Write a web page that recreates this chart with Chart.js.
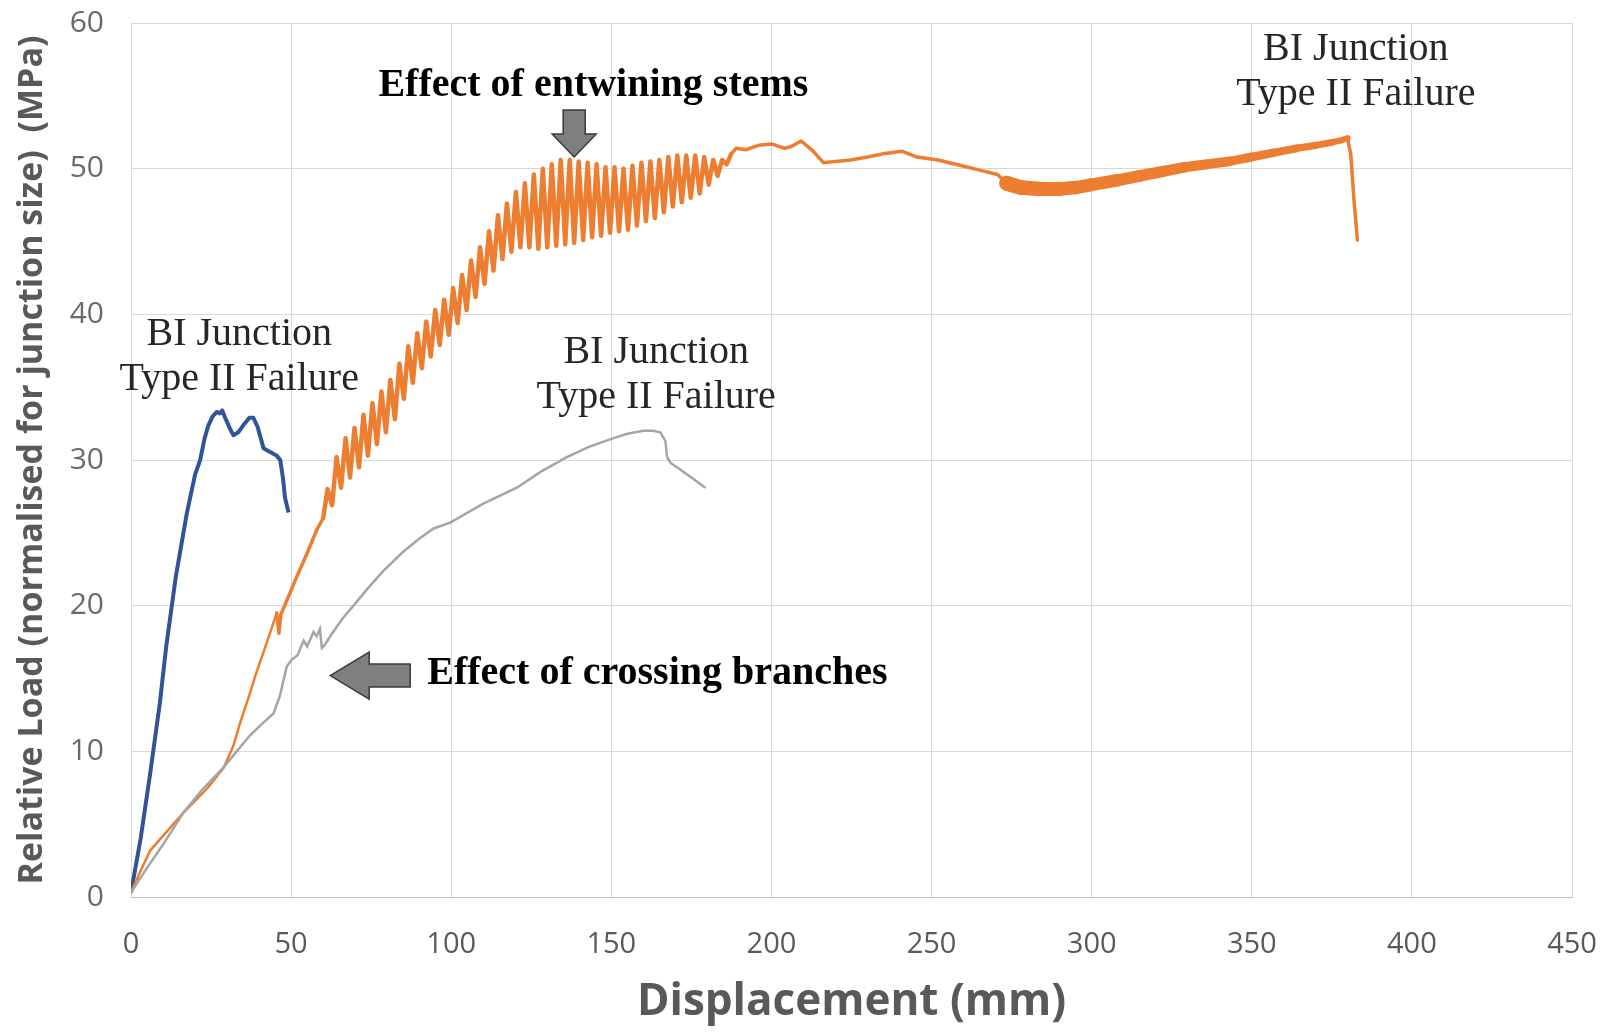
<!DOCTYPE html>
<html>
<head>
<meta charset="utf-8">
<script src="https://cdn.jsdelivr.net/npm/chart.js@4.4.1/dist/chart.umd.min.js"></script>
<style>
  html, body { margin: 0; padding: 0; background: #fff; }
  #wrap { width: 1617px; height: 1032px; position: relative; }
</style>
</head>
<body>
<div id="wrap"><canvas id="chart"></canvas></div>
<script>
// tick values
const xTickValues = [0, 50, 100, 150, 200, 250, 300, 350, 400, 450];
const yTickValues = [0, 10, 20, 30, 40, 50, 60];

// blue specimen
const blueX = [0, 3, 6, 9, 11, 14, 17.4, 20, 21.6, 23, 24.2, 25.5, 26.8, 27.8, 28.5, 29.4, 31, 32, 33.5, 35.1, 37, 38.2, 39.5, 41.4, 43, 43.9, 45.5, 46.6, 47.5, 48.1, 49.2];
const blueY = [0.3, 4, 8.5, 13.3, 17.2, 22, 26.3, 29, 30, 31.5, 32.4, 33, 33.3, 33.2, 33.4, 32.9, 32.1, 31.7, 31.9, 32.4, 32.9, 32.9, 32.3, 30.8, 30.6, 30.5, 30.3, 30, 28.7, 27.4, 26.4];

// grey specimen
const grayX = [0, 5, 10, 16.4, 22, 28.9, 33, 37.2, 41, 44.5, 46.5, 48.6, 50.2, 52, 53.9, 55, 57, 58, 59, 59.6, 60.5, 62.2, 66, 69.5, 74, 78.9, 85, 90, 94.5, 99.7, 110, 120.5, 128, 136.1, 143, 150.7, 155, 160.1, 163, 165.3, 166.9, 167.4, 168.5, 170.5, 175, 179.4];
const grayY = [0.3, 2.0, 3.6, 5.8, 7.3, 8.9, 10.0, 11.1, 11.9, 12.6, 13.8, 15.8, 16.3, 16.6, 17.6, 17.2, 18.2, 17.9, 18.4, 17.1, 17.3, 17.9, 19.1, 20.0, 21.2, 22.4, 23.7, 24.6, 25.3, 25.7, 27.0, 28.1, 29.2, 30.2, 30.9, 31.5, 31.8, 32.0, 32.0, 31.9, 31.3, 30.2, 29.8, 29.5, 28.8, 28.1];

// orange specimen (entwining stems oscillation read tooth by tooth)
const orangeX = [0, 3, 6, 10, 16, 20, 24, 29, 32, 34, 37, 39, 42, 44, 45.5, 46.2, 46.8, 48, 51, 55, 58,
  60.0, 61.4, 62.8, 64.2, 65.6, 67.0, 68.4, 69.8, 71.2, 72.6, 74.0, 75.4, 76.8, 78.2, 79.6, 81.0, 82.4, 83.8, 85.2, 86.6,
  88.0, 89.4, 90.8, 92.2, 93.6, 95.0, 96.4, 97.8, 99.2, 100.6, 102.0, 103.4, 104.8, 106.2, 107.6, 109.0, 110.4, 111.8, 113.2, 114.6,
  116.0, 117.4, 118.8, 120.2, 121.6, 123.0, 124.4, 125.8, 127.2, 128.6, 130.0, 131.4, 132.8, 134.2, 135.6, 137.0, 138.4, 139.8, 141.2, 142.6,
  144.0, 145.4, 146.8, 148.2, 149.6, 151.0, 152.4, 153.8, 155.2, 156.6, 158.0, 159.4, 160.8, 162.2, 163.6, 165.0, 166.4, 167.8, 169.2, 170.6,
  172.0, 173.4, 174.8, 176.2, 177.6, 179.0, 180.4, 181.8, 183.2, 184.6, 186.0, 187.4,
  189, 192, 196, 200, 204, 206, 209.3, 213, 216.3, 220, 224.7, 230, 234.4, 240.7, 245.5, 252, 259.5, 265, 270.6, 273.4,
  278, 284, 290, 295, 300, 308, 315, 322, 329, 336, 343, 350, 357, 364, 370, 375, 378, 379.9, 380.9, 382, 383];
const orangeY = [0.3, 1.8, 3.2, 4.2, 5.7, 6.6, 7.5, 8.9, 10.4, 11.9, 13.9, 15.3, 17.2, 18.5, 19.5, 18.1, 19.4, 20.0, 21.6, 23.6, 25.2,
  26.0, 28.0, 26.9, 30.2, 28.1, 31.5, 28.8, 32.2, 29.5, 33.1, 30.3, 33.9, 31.1, 34.7, 31.9, 35.5, 32.8, 36.6, 34.2, 37.8,
  35.3, 38.7, 36.3, 39.5, 37.1, 40.3, 37.9, 41.0, 38.6, 41.8, 39.4, 42.7, 40.3, 43.7, 41.2, 44.6, 42.1, 45.7, 43.0, 46.8,
  43.8, 47.6, 44.3, 48.4, 44.6, 49.0, 44.6, 49.6, 44.5, 50.0, 44.6, 50.3, 44.7, 50.6, 44.8, 50.6, 44.9, 50.5, 45.1, 50.4,
  45.3, 50.3, 45.4, 50.1, 45.6, 50.1, 45.7, 50.0, 45.8, 50.2, 46.1, 50.4, 46.4, 50.5, 46.6, 50.6, 47.0, 50.8, 47.4, 50.9,
  47.7, 50.9, 48.0, 50.9, 48.3, 50.8, 48.9, 50.6, 49.5, 50.6, 50.3, 51.0,
  51.4, 51.3, 51.6, 51.7, 51.4, 51.5, 51.9, 51.2, 50.4, 50.5, 50.6, 50.8, 51.0, 51.2, 50.8, 50.6, 50.2, 49.9, 49.6, 49.0,
  48.7, 48.6, 48.6, 48.7, 48.9, 49.2, 49.5, 49.8, 50.1, 50.3, 50.5, 50.8, 51.1, 51.4, 51.6, 51.8, 51.95, 52.1, 51.0, 47.6, 45.1];

// annotations (data coordinates)
const junctionNotes = [
  { x: 33.8, y: 38.6 },
  { x: 164.0, y: 37.4 },
  { x: 382.5, y: 58.2 }
];
const boldNotes = [
  { text: "Effect of entwining stems", x: 144.4, y: 55.7 },
  { text: "Effect of crossing branches", x: 164.4, y: 15.3 }
];
const downArrowTip = { x: 138.4, y: 50.8 };
const leftArrowTip = { x: 62.2, y: 15.2 };

const toPoints = (xs, ys) => xs.map((x, i) => ({ x: x, y: ys[i] }));

const annotate = {
  id: "annotate",
  afterDatasetsDraw(chart) {
    const ctx = chart.ctx;
    const sx = chart.scales.x, sy = chart.scales.y;
    ctx.save();
    ctx.textAlign = "center";
    ctx.textBaseline = "middle";

    ctx.font = '40px "Liberation Serif"';
    ctx.fillStyle = "#262626";
    junctionNotes.forEach(n => {
      const px = sx.getPixelForValue(n.x), py = sy.getPixelForValue(n.y);
      ctx.fillText("BI Junction", px, py);
      ctx.fillText("Type II Failure", px, py + 45);
    });

    ctx.font = 'bold 40px "Liberation Serif"';
    ctx.fillStyle = "#000";
    boldNotes.forEach(n => {
      ctx.fillText(n.text, sx.getPixelForValue(n.x), sy.getPixelForValue(n.y));
    });

    ctx.fillStyle = "#7f7f7f";
    ctx.strokeStyle = "#3a3a3a";
    ctx.lineWidth = 1.5;
    ctx.lineJoin = "miter";

    // down arrow
    let px = sx.getPixelForValue(downArrowTip.x), py = sy.getPixelForValue(downArrowTip.y);
    ctx.beginPath();
    ctx.moveTo(px, py);
    ctx.lineTo(px - 22, py - 23);
    ctx.lineTo(px - 11, py - 23);
    ctx.lineTo(px - 11, py - 47);
    ctx.lineTo(px + 11, py - 47);
    ctx.lineTo(px + 11, py - 23);
    ctx.lineTo(px + 22, py - 23);
    ctx.closePath();
    ctx.fill();
    ctx.stroke();

    // left arrow
    px = sx.getPixelForValue(leftArrowTip.x); py = sy.getPixelForValue(leftArrowTip.y);
    ctx.beginPath();
    ctx.moveTo(px, py);
    ctx.lineTo(px + 39, py - 23.5);
    ctx.lineTo(px + 39, py - 11.5);
    ctx.lineTo(px + 80, py - 11.5);
    ctx.lineTo(px + 80, py + 11.5);
    ctx.lineTo(px + 39, py + 11.5);
    ctx.lineTo(px + 39, py + 23.5);
    ctx.closePath();
    ctx.fill();
    ctx.stroke();

    ctx.restore();
  }
};

Chart.defaults.font.family = "'Open Sans', 'DejaVu Sans', sans-serif";

const ctx = document.getElementById("chart").getContext("2d");
new Chart(ctx, {
  type: "line",
  data: {
    datasets: [
      {
        label: "Grey",
        data: toPoints(grayX, grayY),
        borderColor: "#a5a5a5",
        borderWidth: 2.5,
        pointRadius: 0,
        tension: 0
      },
      {
        label: "Orange",
        data: toPoints(orangeX, orangeY),
        borderColor: "#ed7d31",
        borderWidth: 3.5,
        borderCapStyle: "round",
        borderJoinStyle: "round",
        pointRadius: 0,
        tension: 0,
        segment: {
          // noisy band between ~273 and ~380 mm drawn as a thicker stroke
          borderWidth: c => {
            const x = c.p0.parsed.x;
            if (x >= 273 && x < 379) return 15 - (x - 273) * 0.085;
            if (x < 45) return 2.5;
            if (x >= 59 && x < 187) return 4.5;
            return 3.5;
          }
        }
      },
      {
        label: "Blue",
        data: toPoints(blueX, blueY),
        borderColor: "#2f5597",
        borderWidth: 4,
        borderJoinStyle: "round",
        pointRadius: 0,
        tension: 0
      }
    ]
  },
  options: {
    responsive: true,
    maintainAspectRatio: false,
    animation: false,
    layout: { padding: { top: 23, right: 45, bottom: 0, left: 0 } },
    plugins: {
      legend: { display: false },
      tooltip: { enabled: false }
    },
    scales: {
      x: {
        type: "linear",
        min: 0,
        max: 450,
        afterBuildTicks: s => { s.ticks = xTickValues.map(v => ({ value: v })); },
        afterFit: s => { s.height = 135; s.paddingLeft = 0; s.paddingRight = 0; },
        grid: { color: "#d9d9d9", drawTicks: false },
        border: { color: "#bfbfbf" },
        ticks: { padding: 30, color: "#595959", font: { size: 29 } },
        title: {
          display: true,
          text: "Displacement (mm)",
          color: "#595959",
          font: { size: 44, weight: "bold" },
          padding: { top: 0, bottom: 3 }
        }
      },
      y: {
        min: 0,
        max: 60,
        afterBuildTicks: s => { s.ticks = yTickValues.map(v => ({ value: v })); },
        afterFit: s => { s.width = 131; s.paddingTop = 0; s.paddingBottom = 0; },
        grid: { color: "#d9d9d9", drawTicks: false },
        border: { color: "#d9d9d9" },
        ticks: { padding: 27, color: "#6a6a6a", font: { size: 30 } },
        title: {
          display: true,
          text: "Relative Load (normalised for junction size)  (MPa)",
          color: "#595959",
          font: { size: 34, weight: "bold" },
          padding: { top: 12, bottom: 0 }
        }
      }
    }
  },
  plugins: [annotate]
});
</script>
</body>
</html>
